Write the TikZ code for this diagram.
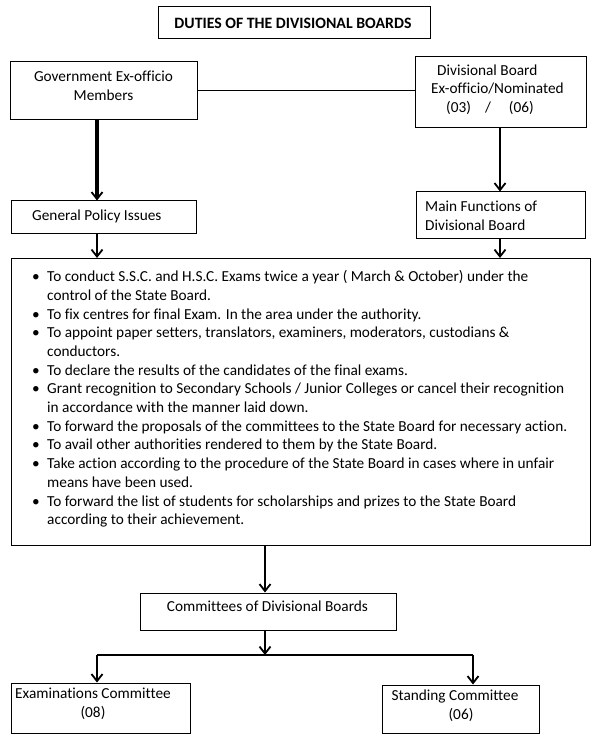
\documentclass[tikz,border=0pt]{standalone}
\usepackage{fontspec}
\setmainfont{Carlito}[Ligatures={NoCommon,NoContextual}]
\usetikzlibrary{arrows.meta}
\begin{document}
\begin{tikzpicture}[x=1pt,y=-1pt,
  box/.style={draw,line width=1pt,inner sep=0pt},
  txt/.style={font=\fontsize{15.3}{18.7}\selectfont,inner sep=0pt},
  arr/.style={-{Straight Barb[length=7pt,width=11pt,line width=1.8pt]},line width=2pt},
  link/.style={line width=1pt}]
\useasboundingbox[fill=white] (0,0) rectangle (599,735);
% boxes
\node[box,minimum width=272pt,minimum height=32pt] (title) at (294,23) {};
\node[txt,font=\fontsize{15.8}{18}\selectfont\bfseries] (titletxt) at (293,23) {DUTIES OF THE DIVISIONAL BOARDS};
\node[box,minimum width=187pt,minimum height=58pt] (gov) at (103.5,91) {};
\node[txt,align=center] (govtxt) at (103.5,86) {Government Ex-officio\\Members};
\node[box,minimum width=171pt,minimum height=71pt] (div) at (500.5,92.5) {};
\node[txt,align=left] (divtxt) at (497.5,89.5) {\hspace*{6pt}Divisional Board\\Ex-officio/Nominated\\\hspace*{15pt}(03)\hspace{14pt}/\hspace{18pt}(06)};
\node[box,minimum width=185pt,minimum height=32pt] (gpi) at (103.5,217) {};
\node[txt,anchor=west] (gpitxt) at (32,216) {General Policy Issues};
\node[box,minimum width=169pt,minimum height=46pt] (mf) at (500.5,215) {};
\node[txt,anchor=west,align=left] (mftxt) at (425,215.5) {Main Functions of\\Divisional Board};
\node[box,minimum width=579pt,minimum height=287pt] (big) at (300.5,402) {};
\node[txt,anchor=north west,align=left] (list) at (32,268.4) {%
\strut\makebox[15pt][l]{\textbullet}To conduct S.S.C. and H.S.C. Exams twice a year ( March \& October) under the\\
\hspace*{15pt}control of the State Board.\\
\makebox[15pt][l]{\textbullet}To fix centres for final Exam. In the area under the authority.\\
\makebox[15pt][l]{\textbullet}To appoint paper setters, translators, examiners, moderators, custodians \&\\
\hspace*{15pt}conductors.\\
\makebox[15pt][l]{\textbullet}To declare the results of the candidates of the final exams.\\
\makebox[15pt][l]{\textbullet}Grant recognition to Secondary Schools / Junior Colleges or cancel their recognition\\
\hspace*{15pt}in accordance with the manner laid down.\\
\makebox[15pt][l]{\textbullet}To forward the proposals of the committees to the State Board for necessary action.\\
\makebox[15pt][l]{\textbullet}To avail other authorities rendered to them by the State Board.\\
\makebox[15pt][l]{\textbullet}Take action according to the procedure of the State Board in cases where in unfair\\
\hspace*{15pt}means have been used.\\
\makebox[15pt][l]{\textbullet}To forward the list of students for scholarships and prizes to the State Board\\
\hspace*{15pt}according to their achievement.};
\node[box,minimum width=256pt,minimum height=37pt] (com) at (268,611.5) {};
\node[txt] (comtxt) at (267.5,606) {Committees of Divisional Boards};
\node[box,minimum width=179pt,minimum height=50pt] (exam) at (100.5,708) {};
\node[txt,align=center] (examtxt) at (93,703.5) {Examinations Committee\\(08)};
\node[box,minimum width=157pt,minimum height=48pt] (stand) at (460.5,709) {};
\node[txt,align=center] (standtxt) at (455,706) {Standing Committee\\\hspace*{12pt}(06)};
% column coordinates
\coordinate (xl) at (97,0);
\coordinate (xr) at (500,0);
\coordinate (xm) at (265,0);
\coordinate (xs) at (473,0);
\coordinate (split) at (265,655);
% connectors
\draw[link] (gov.east |- 0,91) -- (div.west |- 0,91);
\draw[arr,line width=3.5pt] (gov.south -| xl) -- (gpi.north -| xl);
\draw[arr,line width=2.5pt] (div.south -| xr) -- (mf.north -| xr);
\draw[arr] (gpi.south -| xl) -- (big.north -| xl);
\draw[arr] (mf.south -| xr) -- (big.north -| xr);
\draw[arr] (big.south -| xm) -- (com.north -| xm);
\draw[arr] (com.south -| xm) -- (split);
\draw[link,line width=1.5pt] (split -| xl) -- (split -| xs);
\draw[arr] (split -| xl) -- (exam.north -| xl);
\draw[arr] (split -| xs) -- (stand.north -| xs);
\end{tikzpicture}
\end{document}
